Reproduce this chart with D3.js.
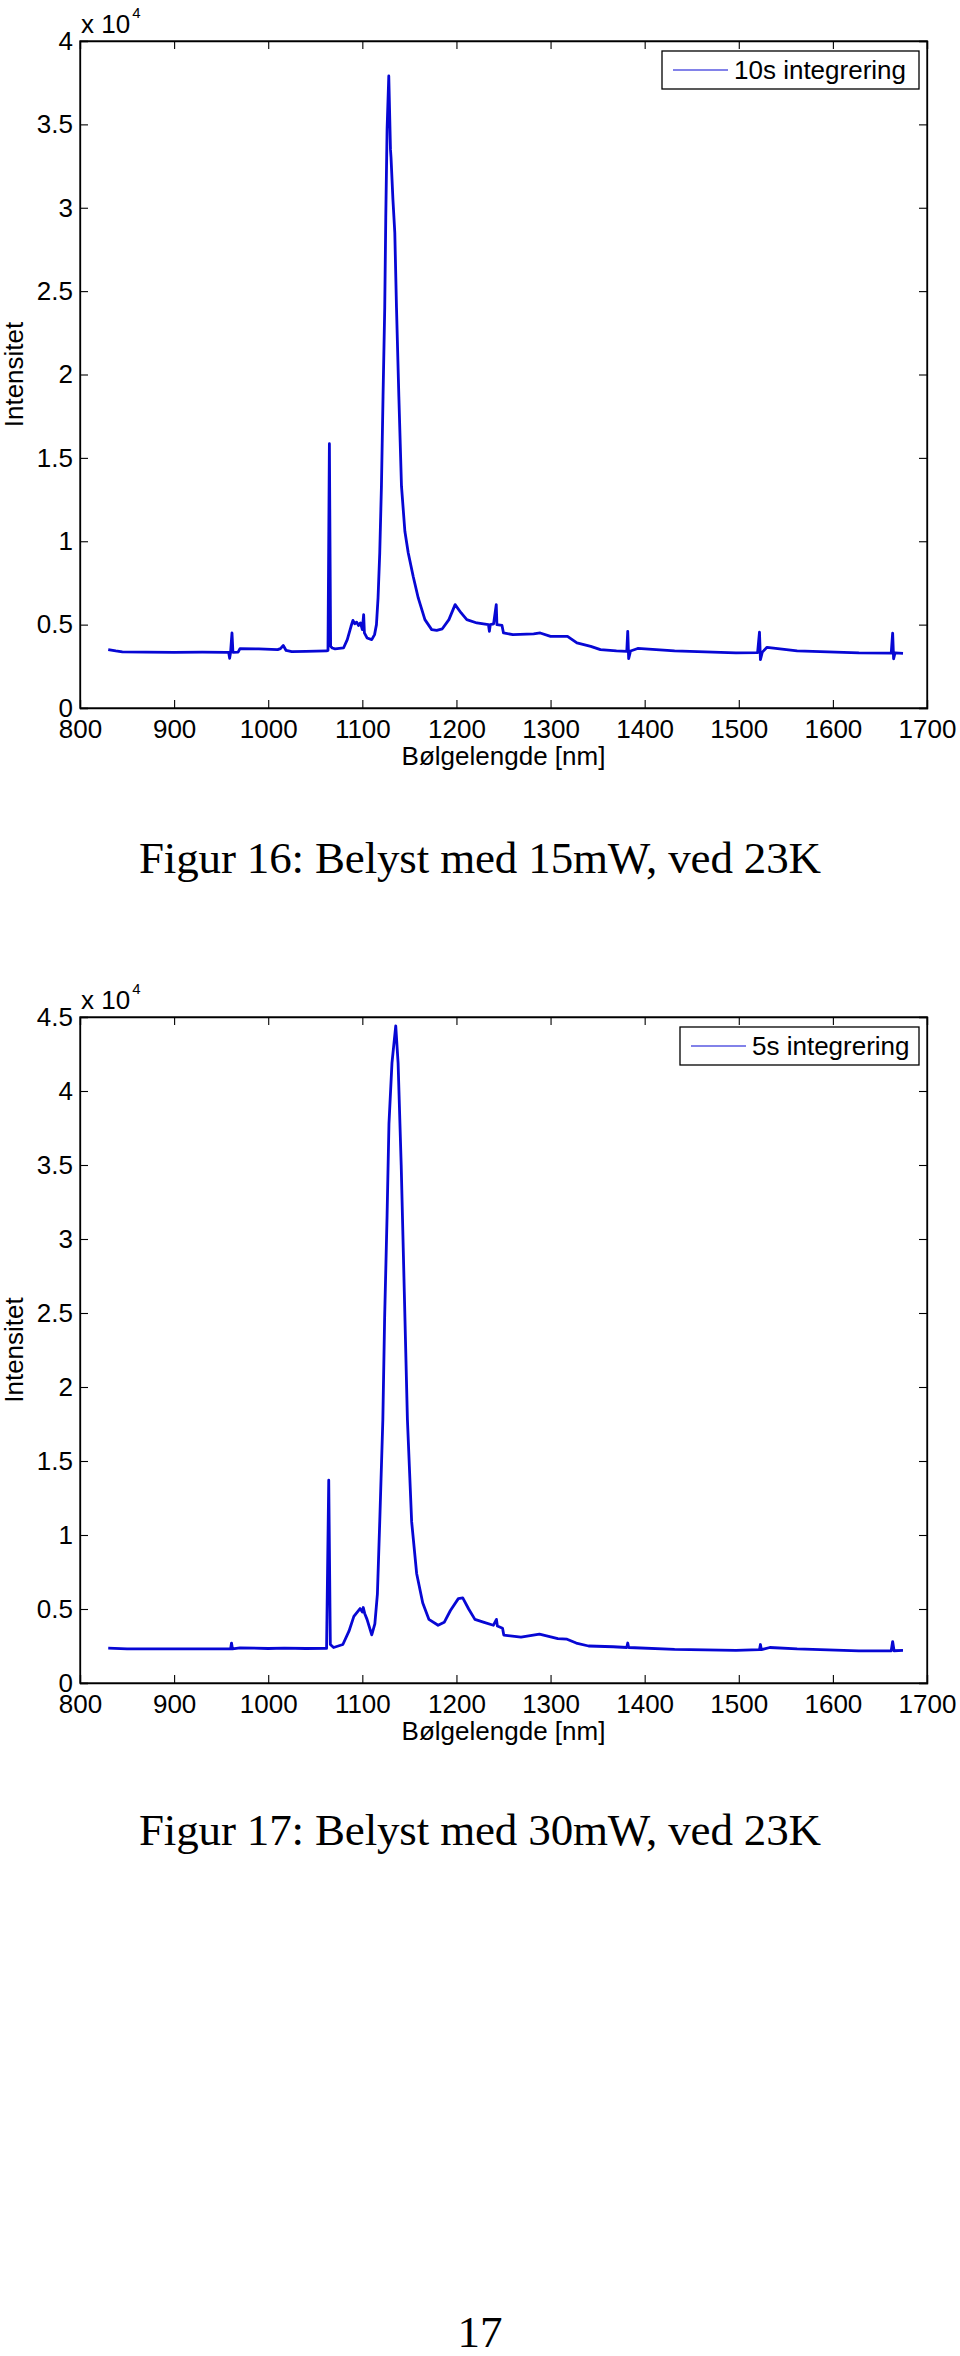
<!DOCTYPE html>
<html>
<head>
<meta charset="utf-8">
<script src="https://cdn.jsdelivr.net/npm/d3@7"></script>
<style>
  body { margin: 0; background: #fff; }
  .axisText { font-family: "Liberation Sans", Arial, sans-serif; font-size: 26px; fill: #000; }
  .caption { font-family: "Liberation Serif", "DejaVu Serif", serif; font-size: 45px; fill: #000; }
</style>
</head>
<body>
<div class="chart"></div>
<script>
// wavelength [nm] and intensity
var wl16 = [830, 838, 845, 870, 900, 930, 955, 958, 959, 960, 961.5, 962.5, 968, 970, 990, 1010, 1013, 1016, 1019, 1025,
  1040, 1062, 1063.5, 1065, 1066.3, 1068, 1071, 1080, 1084, 1088, 1090, 1092, 1094, 1096, 1098, 1100, 1101.4, 1102.2,
  1105, 1110, 1113, 1115, 1116.7, 1118.5, 1120.3, 1122, 1123.8, 1124.9, 1126.3, 1128.1, 1129.9, 1130.5, 1132.5, 1134.5,
  1136.3, 1138.8, 1141.6, 1145.2, 1148.8, 1154, 1159.4, 1166.5, 1173.7, 1179, 1185, 1192, 1198.6, 1205, 1211, 1221.7,
  1234, 1235, 1236, 1239.5, 1242.3, 1243, 1248.4, 1250, 1260, 1282, 1289, 1300, 1318, 1328, 1342.7, 1353, 1370, 1381,
  1382, 1383, 1385, 1392.6, 1431.8, 1497, 1520, 1522, 1523, 1525, 1530, 1562, 1627.6, 1662, 1663.5, 1664.5, 1666, 1674.5];
var int16 = [3500, 3420, 3370, 3350, 3340, 3350, 3340, 3330, 2980, 3340, 4500, 3340, 3350, 3560, 3540, 3500, 3560, 3750, 3450, 3380,
  3400, 3420, 3450, 15850, 3700, 3600, 3550, 3600, 4100, 4900, 5250, 5050, 5150, 4950, 5100, 4700, 5600, 4500,
  4200, 4100, 4400, 5000, 6600, 9300, 13300, 18700, 24000, 29400, 34700, 37900, 33500, 33000, 30500, 28500,
  24000, 18700, 13300, 10600, 9300, 7900, 6600, 5300, 4700, 4650, 4750, 5300, 6200, 5700, 5300, 5100,
  5000, 4600, 5000, 5050, 6200, 5000, 4950, 4500, 4400, 4450, 4500, 4300, 4300, 3900, 3700, 3500, 3420, 3400,
  4600, 2960, 3420, 3570, 3420, 3300, 3320, 4550, 2900, 3350, 3640, 3420, 3300, 3290, 4490, 2950, 3300, 3270];

var wl17 = [830, 850, 900, 960, 961, 962, 970, 1000, 1017, 1040, 1062, 1064.3, 1066, 1069.5, 1079.3, 1085.8, 1091, 1097.6,
  1100, 1101, 1102.5, 1105, 1110, 1113.3, 1116, 1118.5, 1121.8, 1123.7, 1126.3, 1128.3, 1131.5, 1135.5, 1138, 1141.3,
  1144.6, 1147.9, 1152.4, 1157.7, 1164.2, 1170.7, 1180.5, 1187, 1193.6, 1202, 1206.7, 1213, 1219.6, 1229.4, 1239.2,
  1242.5, 1243.5, 1249, 1250.3, 1268.6, 1288.2, 1307.7, 1317.5, 1327.3, 1340.4, 1366.5, 1381, 1382, 1383, 1431.8,
  1497, 1522, 1523, 1524, 1533, 1562, 1627.6, 1662, 1663.5, 1665, 1674.5];
var int17 = [2350, 2300, 2300, 2300, 2700, 2300, 2380, 2330, 2350, 2330, 2340, 13700, 2600, 2400, 2600, 3500, 4500, 5030,
  4800, 5100, 4700, 4300, 3250, 4000, 6000, 10900, 17800, 24700, 31600, 37800, 41900, 44400, 41900, 35000,
  26400, 17800, 10900, 7400, 5400, 4300, 3900, 4100, 4900, 5700, 5750, 5000, 4300, 4100, 3900,
  4300, 3850, 3700, 3240, 3100, 3300, 3000, 2960, 2700, 2500, 2450, 2400, 2700, 2400, 2270,
  2200, 2250, 2600, 2250, 2400, 2300, 2170, 2180, 2800, 2180, 2200];

var xTicks = [800, 900, 1000, 1100, 1200, 1300, 1400, 1500, 1600, 1700];
var yTicks16 = [0, 0.5, 1, 1.5, 2, 2.5, 3, 3.5, 4];
var yTicks17 = [0, 0.5, 1, 1.5, 2, 2.5, 3, 3.5, 4, 4.5];
var legend16 = "10s integrering";
var legend17 = "5s integrering";
var caption16 = "Figur 16: Belyst med 15mW, ved 23K";
var caption17 = "Figur 17: Belyst med 30mW, ved 23K";
var pageNo = "17";

var svgWidth = 960;
var svgHeight = 2356;
var lineColor = "#0707d4";

var svg = d3.select(".chart")
  .append("svg")
  .attr("width", svgWidth)
  .attr("height", svgHeight);

function drawPanel(wl, inten, yTicks, top, bottom, legendText, legendLeft) {
  var left = 80, right = 927;
  var x = d3.scaleLinear().domain([800, 1700]).range([left, right]);
  var y = d3.scaleLinear().domain([0, d3.max(yTicks) * 1e4]).range([bottom, top]);
  var g = svg.append("g");

  var line = d3.line()
    .x(function(d, i) { return x(wl[i]); })
    .y(function(d, i) { return y(inten[i]); });

  g.append("path")
    .datum(inten)
    .attr("d", line)
    .attr("fill", "none")
    .attr("stroke", lineColor)
    .attr("stroke-width", 2.8)
    .attr("stroke-linejoin", "round");

  var fmt = function(d) { return String(+(d / 1e4).toFixed(1)); };
  var yT = yTicks.map(function(v) { return v * 1e4; });

  g.append("g").attr("transform", "translate(0," + bottom + ")")
    .call(d3.axisBottom(x).tickValues(xTicks).tickSize(-8).tickPadding(12).tickFormat(d3.format("d")));
  g.append("g").attr("transform", "translate(0," + top + ")")
    .call(d3.axisTop(x).tickValues(xTicks).tickSize(-8).tickFormat(""));
  g.append("g").attr("transform", "translate(" + left + ",0)")
    .call(d3.axisLeft(y).tickValues(yT).tickSize(-8).tickPadding(7).tickFormat(fmt));
  g.append("g").attr("transform", "translate(" + right + ",0)")
    .call(d3.axisRight(y).tickValues(yT).tickSize(-8).tickFormat(""));

  g.selectAll(".tick text")
    .attr("font-family", "Liberation Sans, Arial, sans-serif")
    .attr("font-size", 26)
    .attr("fill", "#000");
  g.selectAll(".domain").attr("stroke", "#000").attr("stroke-width", 1.3);
  g.selectAll(".tick line").attr("stroke", "#000").attr("stroke-width", 1.1);

  g.append("rect")
    .attr("x", left).attr("y", top)
    .attr("width", right - left).attr("height", bottom - top)
    .attr("fill", "none").attr("stroke", "#000").attr("stroke-width", 1.3);

  // exponent label
  var ex = g.append("text").attr("class", "axisText")
    .attr("x", 81).attr("y", top - 8);
  ex.append("tspan").text("x 10");
  ex.append("tspan").attr("dx", 2).attr("dy", -15).style("font-size", "15px").text("4");

  g.append("text").attr("class", "axisText")
    .attr("text-anchor", "middle")
    .attr("x", (left + right) / 2).attr("y", bottom + 57)
    .text("Bølgelengde [nm]");

  g.append("text").attr("class", "axisText")
    .attr("text-anchor", "middle")
    .attr("transform", "translate(23," + ((top + bottom) / 2) + ") rotate(-90)")
    .text("Intensitet");

  // legend
  var lx = legendLeft, ly = top + 10;
  g.append("rect").attr("x", lx).attr("y", ly).attr("width", 919 - lx).attr("height", 38)
    .attr("fill", "#fff").attr("stroke", "#000").attr("stroke-width", 1.3);
  g.append("line").attr("x1", lx + 11).attr("x2", lx + 66).attr("y1", ly + 19).attr("y2", ly + 19)
    .attr("stroke", lineColor).attr("stroke-width", 1.2);
  g.append("text").attr("class", "axisText")
    .attr("x", lx + 72).attr("y", ly + 28)
    .text(legendText);
}

drawPanel(wl16, int16, yTicks16, 41, 708, legend16, 662);
drawPanel(wl17, int17, yTicks17, 1017, 1683, legend17, 680);

svg.append("text").attr("class", "caption").attr("text-anchor", "middle")
  .attr("x", 480).attr("y", 873).attr("textLength", 682).text(caption16);
svg.append("text").attr("class", "caption").attr("text-anchor", "middle")
  .attr("x", 480).attr("y", 1845).attr("textLength", 682).text(caption17);
svg.append("text").attr("class", "caption").attr("text-anchor", "middle")
  .attr("x", 480).attr("y", 2347).text(pageNo);
</script>
</body>
</html>
